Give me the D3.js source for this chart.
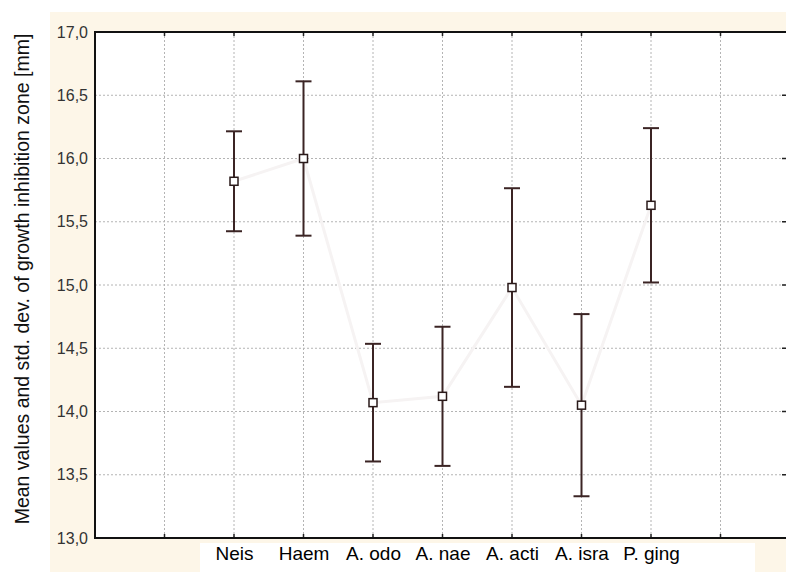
<!DOCTYPE html>
<html>
<head>
<meta charset="utf-8">
<script src="https://cdn.jsdelivr.net/npm/d3@7"></script>
<style>
  body { margin: 0; background: #fff; }
  svg { display: block; font-family: 'Liberation Sans', Arial, sans-serif; }
</style>
</head>
<body>
<div id="chart"></div>
<script>
// data
var groups = ['Neis', 'Haem', 'A. odo', 'A. nae', 'A. acti', 'A. isra', 'P. ging'];
var slots  = [2, 3, 4, 5, 6, 7, 8];
var means  = [15.82, 16.00, 14.07, 14.12, 14.98, 14.05, 15.63];
var sds    = [0.395, 0.61, 0.465, 0.55, 0.785, 0.72, 0.61];
var yTicks = [13, 13.5, 14, 14.5, 15, 15.5, 16, 16.5, 17];

var width = 786, height = 572;
var plotLeft = 95, plotTop = 32, plotBottom = 538, plotRight = 790;

var svg = d3.select('#chart')
    .append('svg')
    .attr('width', width)
    .attr('height', height);

// cream frame
svg.append('rect')
    .attr('x', 50).attr('y', 12)
    .attr('width', width - 50).attr('height', height - 12)
    .attr('fill', '#fdf6e8');
svg.append('rect')
    .attr('x', 200).attr('y', 543)
    .attr('width', 555).attr('height', height - 543)
    .attr('fill', '#fff');
svg.append('rect')
    .attr('x', plotLeft).attr('y', plotTop)
    .attr('width', plotRight - plotLeft).attr('height', plotBottom - plotTop)
    .attr('fill', '#fff');

var xScale = d3.scaleLinear().domain([0, 10]).range([plotLeft, plotRight]);
var yScale = d3.scaleLinear().domain([13, 17]).range([plotBottom, plotTop]);

var fmt = function(v){ return d3.format('.1f')(v).replace('.', ','); };

// grid
svg.append('g')
    .selectAll('line')
    .data(d3.range(1, 10))
    .enter()
    .append('line')
    .attr('x1', function(d){ return xScale(d); })
    .attr('x2', function(d){ return xScale(d); })
    .attr('y1', plotTop).attr('y2', plotBottom)
    .attr('stroke', '#b4b4b4')
    .attr('stroke-dasharray', '2,2');

svg.append('g')
    .selectAll('line')
    .data(yTicks.slice(1, -1))
    .enter()
    .append('line')
    .attr('x1', plotLeft).attr('x2', plotRight)
    .attr('y1', function(d){ return yScale(d); })
    .attr('y2', function(d){ return yScale(d); })
    .attr('stroke', '#b4b4b4')
    .attr('stroke-dasharray', '2,2');

// very faint ghost line through the means
var pts = means.map(function(m, i){ return [xScale(slots[i]), yScale(m)]; });
svg.append('path')
    .attr('d', d3.line()(pts))
    .attr('fill', 'none')
    .attr('stroke', '#f6f3f3')
    .attr('stroke-width', 3);

// axes
var yAxisG = svg.append('g')
    .attr('class', 'axis')
    .attr('transform', 'translate(' + plotLeft + ',0)')
    .call(d3.axisLeft(yScale).tickValues(yTicks).tickFormat(fmt).tickSize(0).tickPadding(7));
yAxisG.select('.domain').remove();
yAxisG.selectAll('text')
    .attr('font-size', 16)
    .attr('fill', '#333')
    .attr('font-family', "'Liberation Sans', Arial, sans-serif");

var xAxisG = svg.append('g')
    .attr('class', 'axis')
    .attr('transform', 'translate(0,' + plotBottom + ')')
    .call(d3.axisBottom(xScale).tickValues(slots).tickFormat(function(d, i){ return groups[i]; }).tickSize(0).tickPadding(9));
xAxisG.select('.domain').remove();
xAxisG.selectAll('text')
    .attr('font-size', 19)
    .attr('fill', '#000')
    .attr('dy', '0.71em')
    .attr('font-family', "'Liberation Sans', Arial, sans-serif");

// inside ticks on top, bottom and right
var ticks = svg.append('g').attr('stroke', '#222').attr('stroke-width', 1.5);
d3.range(1, 10).forEach(function(d){
    ticks.append('line').attr('x1', xScale(d)).attr('x2', xScale(d)).attr('y1', plotTop).attr('y2', plotTop + 4);
    ticks.append('line').attr('x1', xScale(d)).attr('x2', xScale(d)).attr('y1', plotBottom).attr('y2', plotBottom - 4);
});
yTicks.forEach(function(d){
    ticks.append('line').attr('x1', 782).attr('x2', 786).attr('y1', yScale(d)).attr('y2', yScale(d));
});

// frame lines
svg.append('path')
    .attr('d', 'M' + plotRight + ',' + plotTop + 'H' + plotLeft + 'V' + plotBottom + 'H' + plotRight)
    .attr('fill', 'none')
    .attr('stroke', '#111')
    .attr('stroke-width', 2);

// error bars
var barColor = '#3b2424';
var bars = svg.selectAll('.bar')
    .data(groups)
    .enter()
    .append('g')
    .attr('class', 'bar');

bars.append('line')
    .attr('x1', function(d, i){ return xScale(slots[i]); })
    .attr('x2', function(d, i){ return xScale(slots[i]); })
    .attr('y1', function(d, i){ return yScale(means[i] + sds[i]); })
    .attr('y2', function(d, i){ return yScale(means[i] - sds[i]); })
    .attr('stroke', barColor)
    .attr('stroke-width', 2);

[1, -1].forEach(function(sign){
    bars.append('line')
        .attr('x1', function(d, i){ return xScale(slots[i]) - 8; })
        .attr('x2', function(d, i){ return xScale(slots[i]) + 8; })
        .attr('y1', function(d, i){ return yScale(means[i] + sign * sds[i]); })
        .attr('y2', function(d, i){ return yScale(means[i] + sign * sds[i]); })
        .attr('stroke', barColor)
        .attr('stroke-width', 2);
});

bars.append('rect')
    .attr('x', function(d, i){ return xScale(slots[i]) - 4; })
    .attr('y', function(d, i){ return yScale(means[i]) - 4; })
    .attr('width', 8)
    .attr('height', 8)
    .attr('fill', '#fff')
    .attr('stroke', '#2a1a1a')
    .attr('stroke-width', 1.5);

// y title
svg.append('text')
    .attr('transform', 'translate(29,' + 279 + ') rotate(-90)')
    .attr('text-anchor', 'middle')
    .attr('font-size', 19.5)
    .attr('fill', '#111')
    .text('Mean values and std. dev. of growth inhibition zone [mm]');
</script>
</body>
</html>
